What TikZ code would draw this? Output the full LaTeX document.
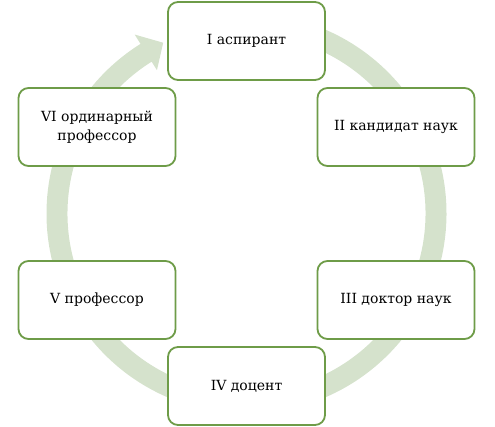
\documentclass[tikz,border=0pt]{standalone}
\usepackage{fontspec}
\setmainfont{DejaVu Serif}
\definecolor{boxgreen}{HTML}{6E9C48}
\definecolor{bandgreen}{HTML}{D5E2CC}
\begin{document}
\begin{tikzpicture}[x=1pt,y=1pt,
  stagebox/.style={draw=boxgreen, line width=1.8pt, fill=white, rounded corners=10pt,
    minimum width=157pt, minimum height=78pt, inner sep=2pt, align=center,
    font=\fontsize{14}{19}\selectfont, text=black}]
\useasboundingbox (0,0) rectangle (495,427);
\begin{scope}[shift={(246.5,213.5)}]
\fill[bandgreen] (85:200) arc[start angle=85, end angle=-238, radius=200]
  -- (-238:211) -- (-244:190) -- (-238:169) -- (-238:179)
  arc[start angle=-238, end angle=85, radius=179] -- cycle;
\end{scope}
\node[stagebox] (n1) at (246.5,386) {I аспирант};
\node[stagebox] (n2) at (396,300) {II кандидат наук};
\node[stagebox] (n3) at (396,127) {III доктор наук};
\node[stagebox] (n4) at (246.5,41) {IV доцент};
\node[stagebox] (n5) at (97,127) {V профессор};
\node[stagebox] (n6) at (97,300) {VI ординарный\\профессор};
\end{tikzpicture}
\end{document}
